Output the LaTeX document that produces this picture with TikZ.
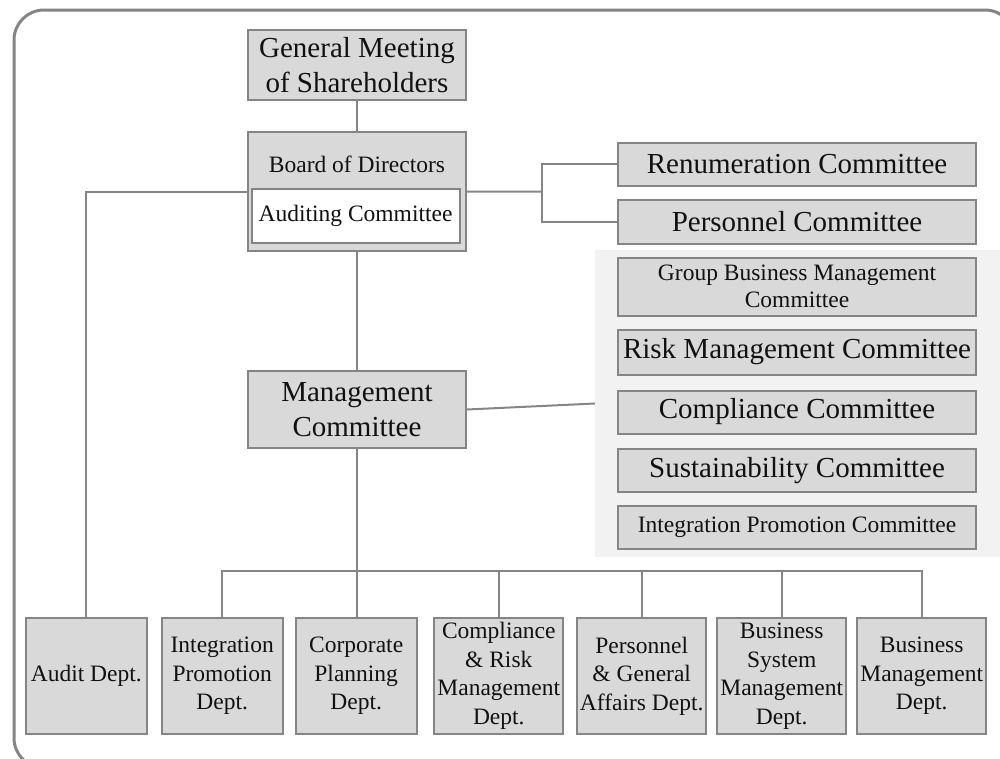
\documentclass[tikz,border=0pt]{standalone}
\usepackage{fontspec}
\setmainfont{Liberation Serif}
\definecolor{boxgray}{HTML}{D9D9D9}
\definecolor{linegray}{HTML}{858585}
\definecolor{framegray}{HTML}{858585}
\definecolor{panelgray}{HTML}{F2F2F2}
\definecolor{textc}{HTML}{111111}
\newcommand\myBig{\fontsize{29}{35}\selectfont}
\newcommand\mySmall{\fontsize{23.5}{28.5}\selectfont}
\begin{document}
\begin{tikzpicture}[x=1pt,y=-1pt,
  box/.style={draw=linegray, fill=boxgray, line width=2pt, inner sep=0pt, align=center, text=textc},
  bigbox/.style={box, font=\myBig},
  smallbox/.style={box, font=\mySmall},
  committee/.style={minimum width=358pt},
  dept/.style={smallbox, minimum height=116pt},
  conn/.style={draw=linegray, line width=2pt}]
\useasboundingbox (0,0) rectangle (1000,758);
\begin{scope}
\clip (0,0) rectangle (1000,758);
\draw[framegray, line width=3pt, rounded corners=30pt] (14,10) rectangle (1015,768);
\node[fill=panelgray, minimum width=410pt, minimum height=307pt, inner sep=0pt] (panel) at (800,403.5) {};
\end{scope}
% top
\node[bigbox, minimum width=218pt, minimum height=70pt] (gm) at (357,65) {General Meeting\\of Shareholders};
\node[box, minimum width=218pt, minimum height=119pt] (board) at (357,191.5) {};
\node[font=\mySmall, text=textc, inner sep=0pt] (boardlbl) at (357,164) {Board of Directors};
\node[box, fill=white, minimum width=208pt, minimum height=54pt, font=\mySmall] (audc) at (355.5,215.5) {Auditing Committee};
\node[bigbox, minimum width=218pt, minimum height=77pt] (mgmt) at (357,409.5) {Management\\Committee};
% right committees
\node[bigbox, committee, minimum height=43pt] (renum) at (797,164) {Renumeration Committee};
\node[bigbox, committee, minimum height=44pt] (pers) at (797,221.5) {Personnel Committee};
\node[smallbox, committee, minimum height=58pt, font={\fontsize{23.5}{27.5}\selectfont}] (gbm) at (797,286.5) {Group Business Management\\Committee};
\node[bigbox, committee, minimum height=45pt] (risk) at (797,352) {Risk Management Committee};
\node[bigbox, committee, minimum height=43pt] (comp) at (797,412) {Compliance Committee};
\node[bigbox, committee, minimum height=43pt] (sust) at (797,470.3) {Sustainability Committee};
\node[smallbox, committee, minimum height=43pt] (ipc) at (797,527) {Integration Promotion Committee};
% departments
\node[dept, minimum width=121pt] (audit) at (86.3,676) {Audit Dept.};
\node[dept, minimum width=121pt] (intp) at (222.2,676) {Integration\\Promotion\\Dept.};
\node[dept, minimum width=121pt] (corp) at (356.2,676) {Corporate\\Planning\\Dept.};
\node[dept, minimum width=129pt] (crm) at (498.8,676) {Compliance\\\&\ Risk\\Management\\Dept.};
\node[dept, minimum width=129pt] (pga) at (641.7,676) {Personnel\\\&\ General\\Affairs Dept.};
\node[dept, minimum width=129pt] (bsm) at (781.7,676) {Business\\System\\Management\\Dept.};
\node[dept, minimum width=129pt] (bmd) at (921.7,676) {Business\\Management\\Dept.};
% connectors
\coordinate (j1) at (541.7,191.7);
\coordinate (bus) at (357,571);
\draw[conn] (gm.south) -- (board.north);
\draw[conn] (board.south) -- (mgmt.north);
\draw[conn] (board.east) -- (j1);
\draw[conn] (j1) |- (renum.west);
\draw[conn] (j1) |- (pers.west);
\draw[conn] (board.west) -| (audit.north);
\draw[conn] (mgmt.east) -- (panel.west);
\draw[conn] (mgmt.south) -- (corp.north -| mgmt.south);
\draw[conn] (intp.north) -- (intp.north |- bus) -- (bmd.north |- bus) -- (bmd.north);
\draw[conn] (crm.north) -- (crm.north |- bus);
\draw[conn] (pga.north) -- (pga.north |- bus);
\draw[conn] (bsm.north) -- (bsm.north |- bus);
\end{tikzpicture}
\end{document}
